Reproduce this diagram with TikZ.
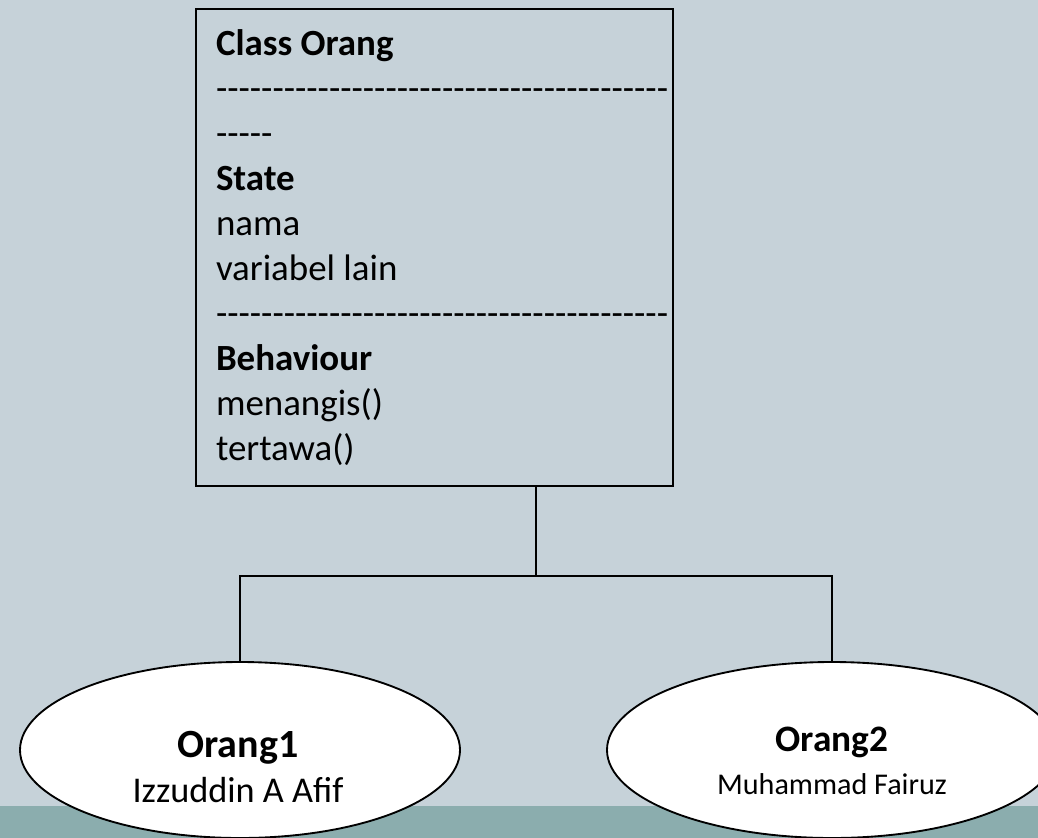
\documentclass[tikz,border=0pt]{standalone}
\usepackage{fontspec}
\setmainfont{Carlito}
\usetikzlibrary{positioning, shapes.geometric}
\definecolor{slide}{RGB}{198,210,217}
\definecolor{band}{RGB}{139,173,174}
\newcommand{\dashrow}[1]{\mbox{\foreach \k in {1,...,#1}{-\kern0pt}}}
\tikzset{
classbox/.style={draw, line width=1.8pt, align=flush left, text width=327.75pt, inner xsep=15pt, inner ysep=0pt, minimum width=357.75pt, minimum height=357.75pt, font=\fontsize{27.7}{33.75}\selectfont}, % the class with its state and behaviour
objek/.style={ellipse, draw, fill=white, line width=1.4pt, minimum height=132pt, inner sep=0pt}, % one object of the class
nama/.style={align=center, inner sep=0pt}, % text inside an object
garis/.style={line width=1.9pt}, % the connectors
}
\begin{document}
\begin{tikzpicture}[x=0.75pt, y=-0.75pt]
\fill[slide] (0,0) rectangle (1038,838);
\fill[band] (0,806) rectangle (1038,838);
\useasboundingbox (0,0) rectangle (1038,838);

\node[classbox] (orang) at (434.5,247.5) {\textbf{Class Orang}\\ \dashrow{40}\\ \dashrow{5}\\ \textbf{State}\\ nama\\ variabel lain\\ \dashrow{40}\\ \textbf{Behaviour}\\ menangis()\\ tertawa()};

\node[objek, minimum width=330pt] (orang1) at (240,750) {};
\node[objek, minimum width=337.5pt] (orang2) at (832,750) {};
\node[nama, font=\fontsize{27.2}{33.75}\selectfont] (teks1) at (238,767) {{\fontsize{30}{33.75}\selectfont\bfseries Orang1}\\ Izzuddin A Afif};
\node[nama, font=\fontsize{22.6}{32}\selectfont] (teks2) at (832,761) {{\fontsize{28}{32}\selectfont\bfseries Orang2}\\ Muhammad Fairuz};

\coordinate (cabang) at (536,576);
\draw[garis] (orang.south -| cabang) -- (cabang);
\draw[garis] (orang1.north) |- (cabang) -| (orang2.north);
\end{tikzpicture}
\end{document}
